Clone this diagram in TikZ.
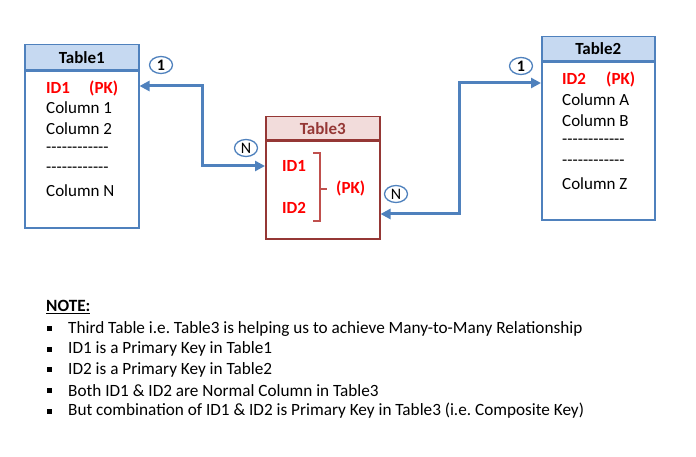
\documentclass[tikz,border=0pt]{standalone}
\usepackage{fontspec}
\setmainfont{Carlito}
\usetikzlibrary{positioning,shapes.geometric,arrows.meta}
\definecolor{tblblue}{RGB}{79,129,189}
\definecolor{headblue}{RGB}{198,217,241}
\definecolor{tblred}{RGB}{149,55,53}
\definecolor{headred}{RGB}{242,220,219}
\definecolor{bracered}{RGB}{192,80,77}
\newcommand{\dashrow}{-{}-{}-{}-{}-{}-{}-{}-{}-{}-{}-{}-}
\frenchspacing
\tikzset{
  tblhead/.style={draw,line width=1.5pt,anchor=north west,inner sep=0pt,font=\fontsize{17}{20}\selectfont\bfseries},
  tblbody/.style={draw,line width=1.5pt,anchor=north,inner sep=0pt},
  field/.style={anchor=west,inner sep=0pt,font=\fontsize{17}{20}\selectfont},
  pkfield/.style={field,text=red,font=\fontsize{17}{20}\selectfont\bfseries},
  card/.style={ellipse,draw=tblblue,line width=1.3pt,inner sep=0pt,minimum width=23pt,minimum height=17pt,font=\fontsize{16}{18}\selectfont},
  rel/.style={draw=tblblue,line width=3pt,{Triangle[length=10pt,width=10pt]}-{Triangle[length=10pt,width=10pt]}},
  notetxt/.style={anchor=west,inner sep=0pt,font=\fontsize{17.2}{20}\selectfont},
  bullet/.style={fill=black,inner sep=0pt,minimum size=5pt}
}
\begin{document}
\begin{tikzpicture}[x=1pt,y=-1pt]
  \useasboundingbox (0,0) rectangle (696,457);
  % Table1
  \node[tblhead,draw=tblblue,fill=headblue,minimum width=114pt,minimum height=25pt] (t1h) at (24,44) {Table1};
  \node[tblbody,draw=tblblue,minimum width=114pt,minimum height=157pt] (t1b) at (t1h.south) {};
  \node[pkfield] (t1id) at (46,88) {ID1};
  \node[pkfield] (t1pk) at (89,88) {(PK)};
  \node[field] (t1c1) at (46,108) {Column 1};
  \node[field] (t1c2) at (46,129) {Column 2};
  \node[field] (t1d1) at (46,150) {\dashrow};
  \node[field] (t1d2) at (46,170) {\dashrow};
  \node[field] (t1cn) at (46,191) {Column N};
  % Table2
  \node[tblhead,draw=tblblue,fill=headblue,minimum width=113pt,minimum height=24pt] (t2h) at (541,36) {Table2};
  \node[tblbody,draw=tblblue,minimum width=113pt,minimum height=158pt] (t2b) at (t2h.south) {};
  \node[pkfield] (t2id) at (562,79) {ID2};
  \node[pkfield] (t2pk) at (606,79) {(PK)};
  \node[field] (t2ca) at (562,100) {Column A};
  \node[field] (t2cb) at (562,121) {Column B};
  \node[field] (t2d1) at (562,142) {\dashrow};
  \node[field] (t2d2) at (562,163) {\dashrow};
  \node[field] (t2cz) at (562,184) {Column Z};
  % Table3
  \node[tblhead,draw=tblred,fill=headred,text=tblred,minimum width=114pt,minimum height=23pt] (t3h) at (265,116) {Table3};
  \node[tblbody,draw=tblred,minimum width=114pt,minimum height=98pt] (t3b) at (t3h.south) {};
  \node[pkfield] (t3id1) at (282,166) {ID1};
  \node[pkfield] (t3id2) at (282,208) {ID2};
  \node[pkfield] (t3pk) at (336,188) {(PK)};
  \draw[bracered,line width=1.3pt] (313,153) -- (320,153) -- (320,221) -- (313,221)
    (320,189) -- (327,189);
  % relations
  \coordinate (t1in) at (t1b.east |- 0,86);
  \coordinate (t3in) at (t3b.west |- t3id1);
  \coordinate (t3out) at (t3b.east |- 0,214);
  \coordinate (t2in) at (t2b.west |- 0,83);
  \draw[rel] (t1in) -| (202,166) -- (t3in);
  \draw[rel] (t3out) -| (459,83) -- (t2in);
  \node[card,font=\fontsize{16}{18}\selectfont\bfseries] (c1) at (161,65) {1};
  \node[card] (cn1) at (246,148) {N};
  \node[card,font=\fontsize{16}{18}\selectfont\bfseries] (c2) at (521,66) {1};
  \node[card] (cn2) at (396,194) {N};
  % note
  \node[notetxt,font=\fontsize{17.2}{20}\selectfont\bfseries] (note) at (46,307) {\underline{NOTE:}};
  \foreach \txt [count=\i] in {Third Table i.e. Table3 is helping us to achieve Many-to-Many Relationship,
    ID1 is a Primary Key in Table1,
    ID2 is a Primary Key in Table2,
    Both ID1 \& ID2 are Normal Column in Table3,
    But combination of ID1 \& ID2 is Primary Key in Table3 (i.e. Composite Key)} {
    \node[bullet] (b\i) at (49,308+20.6*\i) {};
    \node[notetxt] (n\i) at (68,308+20.6*\i) {\txt};
  }
\end{tikzpicture}
\end{document}
